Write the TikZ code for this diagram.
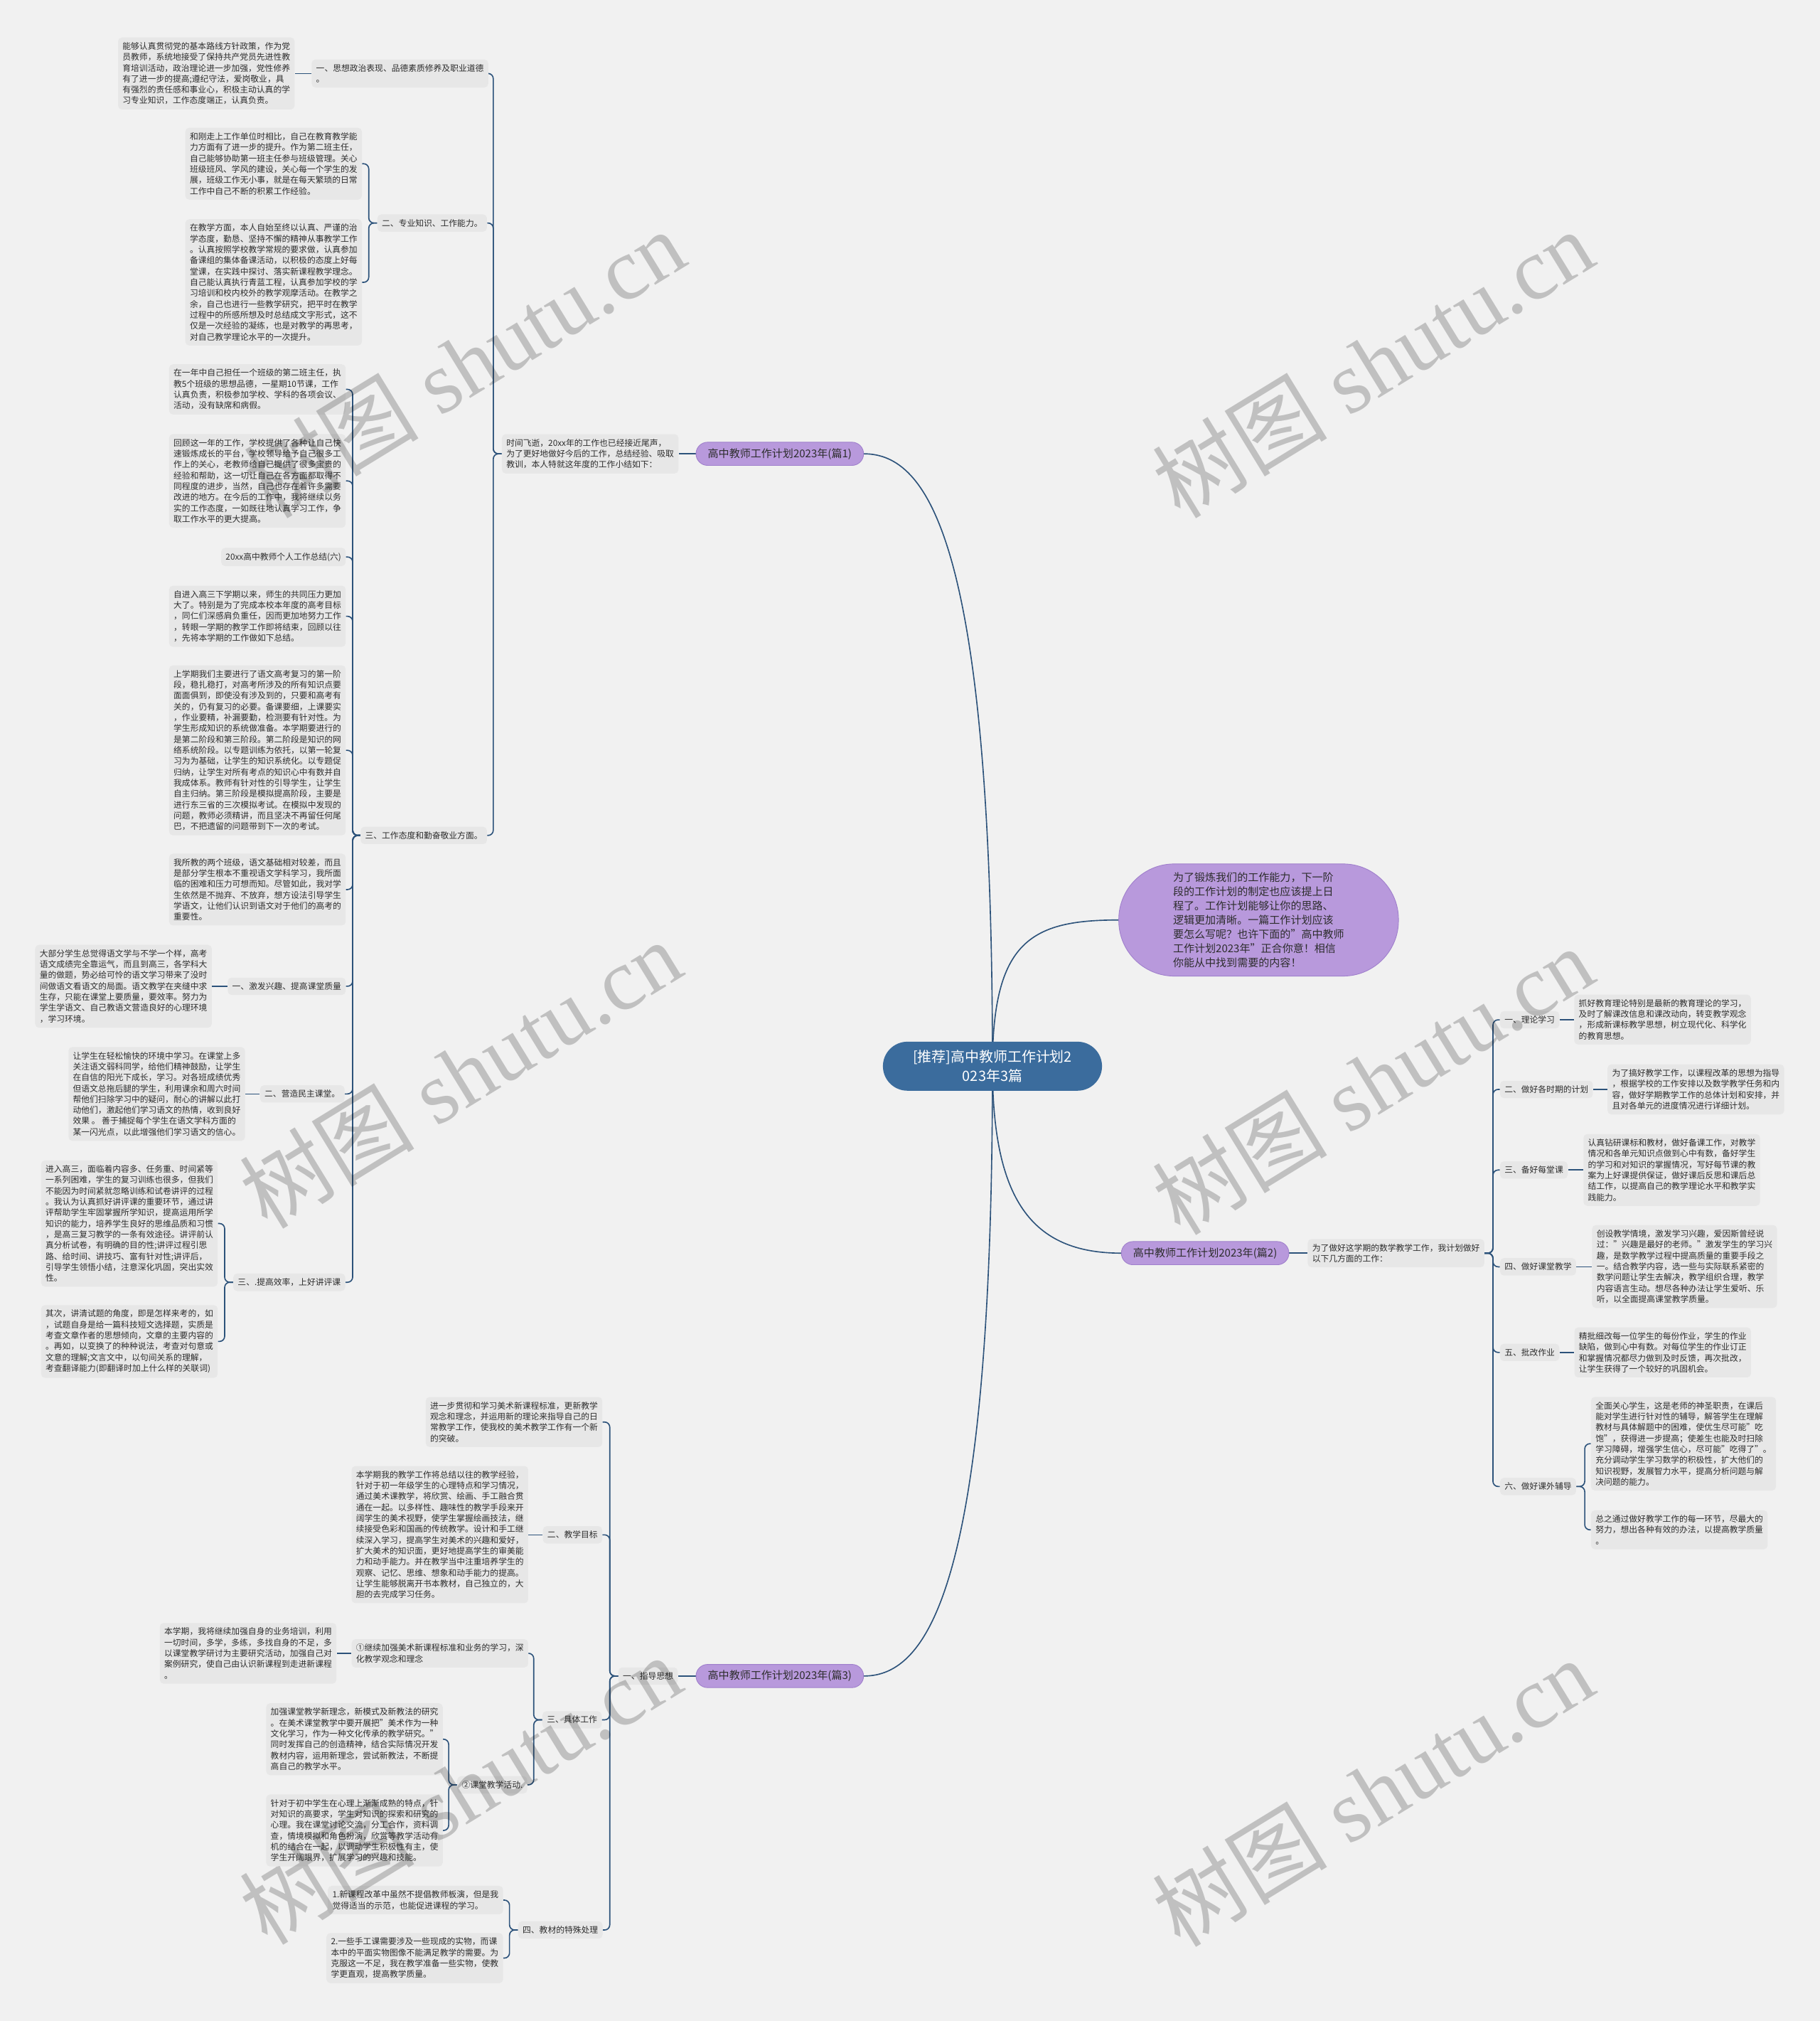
\documentclass[tikz,border=0pt]{standalone}
\usepackage{fontspec}
\setmainfont{Noto Sans CJK SC}
\newfontfamily\wmserif{Liberation Serif}
\definecolor{bgc}{RGB}{241,241,241}
\definecolor{boxc}{RGB}{231,231,231}
\definecolor{linec}{RGB}{44,82,122}
\definecolor{purp}{RGB}{184,153,220}
\definecolor{purpd}{RGB}{160,128,204}
\definecolor{cblue}{RGB}{59,108,157}
\definecolor{txt}{RGB}{45,45,45}
\pgfdeclarelayer{bglayer}
\pgfdeclarelayer{linelayer}
\pgfdeclarelayer{wmlayer}
\pgfsetlayers{bglayer,linelayer,main,wmlayer}
\begin{document}
\begin{tikzpicture}[x=1pt,y=-1pt,
  tbox/.style={fill=boxc, rounded corners=3pt, inner xsep=3.5pt, inner ysep=3.7pt, align=left, text=txt, font=\fontsize{6.5}{8.45}\selectfont},
  pillnode/.style={fill=purp, draw=purpd, line width=0.5pt, rounded corners=9pt, minimum width=130pt, minimum height=18pt, inner sep=0pt, text=txt, font=\fontsize{8.3}{10}\selectfont},
  conn/.style={draw=linec, line width=0.9pt, rounded corners=4pt},
  wm/.style={rotate=31.5, text=black, opacity=0.2, font=\fontsize{68}{70}\selectfont}
]
\useasboundingbox (0,0) rectangle (1412,1567.6);
\begin{pgfonlayer}{bglayer}
\fill[bgc] (0,0) rectangle (1412,1567.6);
\end{pgfonlayer}

% ---------- centre ----------
\node[fill=cblue, rounded corners=19pt, minimum width=170pt, minimum height=38pt, align=center, text=white, font=\fontsize{11}{14.5}\selectfont, inner sep=0pt] (C0) at (770,827) {[推荐]高中教师工作计划2\\023年3篇};
\node[fill=purp, draw=purpd, line width=0.5pt, rounded corners=43pt, minimum width=217pt, minimum height=87pt, align=left, text=txt, font=\fontsize{8.3}{11}\selectfont, inner sep=0pt] (BB) at (976.5,713.6) {为了锻炼我们的工作能力，下一阶\\段的工作计划的制定也应该提上日\\程了。工作计划能够让你的思路、\\逻辑更加清晰。一篇工作计划应该\\要怎么写呢？也许下面的"高中教师\\工作计划2023年"正合你意！相信\\你能从中找到需要的内容！};

% ---------- branch 1 ----------
\node[pillnode] (P1) at (605,352) {高中教师工作计划2023年(篇1)};
\node[tbox, anchor=east] (T1) at (526.6,352) {时间飞逝，20xx年的工作也已经接近尾声，\\为了更好地做好今后的工作，总结经验、吸取\\教训，本人特就这年度的工作小结如下：};
\node[tbox, anchor=east] (L1) at (379,57) {一、思想政治表现、品德素质修养及职业道德\\。};
\node[tbox, anchor=east] (A1) at (228.8,57) {能够认真贯彻党的基本路线方针政策，作为党\\员教师，系统地接受了保持共产党员先进性教\\育培训活动，政治理论进一步加强，党性修养\\有了进一步的提高;遵纪守法，爱岗敬业，具\\有强烈的责任感和事业心，积极主动认真的学\\习专业知识，工作态度端正，认真负责。};
\node[tbox, anchor=east] (L2) at (378,173) {二、专业知识、工作能力。};
\node[tbox, anchor=east] (A2) at (281,127) {和刚走上工作单位时相比，自己在教育教学能\\力方面有了进一步的提升。作为第二班主任，\\自己能够协助第一班主任参与班级管理。关心\\班级班风、学风的建设，关心每一个学生的发\\展，班级工作无小事，就是在每天繁琐的日常\\工作中自己不断的积累工作经验。};
\node[tbox, anchor=east] (A3) at (281,219) {在教学方面，本人自始至终以认真、严谨的治\\学态度，勤恳、坚持不懈的精神从事教学工作\\。认真按照学校教学常规的要求做，认真参加\\备课组的集体备课活动，以积极的态度上好每\\堂课，在实践中探讨、落实新课程教学理念。\\自己能认真执行青蓝工程，认真参加学校的学\\习培训和校内校外的教学观摩活动。在教学之\\余，自己也进行一些教学研究，把平时在教学\\过程中的所感所想及时总结成文字形式，这不\\仅是一次经验的凝练，也是对教学的再思考，\\对自己教学理论水平的一次提升。};
\node[tbox, anchor=east] (L3) at (378,648) {三、工作态度和勤奋敬业方面。};
\node[tbox, anchor=east] (A4) at (268.4,302) {在一年中自己担任一个班级的第二班主任，执\\教5个班级的思想品德，一星期10节课，工作\\认真负责，积极参加学校、学科的各项会议、\\活动，没有缺席和病假。};
\node[tbox, anchor=east] (A5) at (268.4,373) {回顾这一年的工作，学校提供了各种让自己快\\速锻炼成长的平台，学校领导给予自己很多工\\作上的关心，老教师给自己提供了很多宝贵的\\经验和帮助，这一切让自己在各方面都取得不\\同程度的进步，当然，自己也存在着许多需要\\改进的地方。在今后的工作中，我将继续以务\\实的工作态度，一如既往地认真学习工作，争\\取工作水平的更大提高。};
\node[tbox, anchor=east] (A6) at (268.4,432) {20xx高中教师个人工作总结(六)};
\node[tbox, anchor=east] (A7) at (268.4,478) {自进入高三下学期以来，师生的共同压力更加\\大了。特别是为了完成本校本年度的高考目标\\，同仁们深感肩负重任，因而更加地努力工作\\，转眼一学期的教学工作即将结束，回顾以往\\，先将本学期的工作做如下总结。};
\node[tbox, anchor=east] (A8) at (268.4,582) {上学期我们主要进行了语文高考复习的第一阶\\段，稳扎稳打，对高考所涉及的所有知识点要\\面面俱到，即使没有涉及到的，只要和高考有\\关的，仍有复习的必要。备课要细，上课要实\\，作业要精，补漏要勤，检测要有针对性。为\\学生形成知识的系统做准备。本学期要进行的\\是第二阶段和第三阶段。第二阶段是知识的网\\络系统阶段。以专题训练为依托，以第一轮复\\习为为基础，让学生的知识系统化。以专题促\\归纳，让学生对所有考点的知识心中有数并自\\我成体系。教师有针对性的引导学生，让学生\\自主归纳。第三阶段是模拟提高阶段，主要是\\进行东三省的三次模拟考试。在模拟中发现的\\问题，教师必须精讲，而且坚决不再留任何尾\\巴，不把遗留的问题带到下一次的考试。};
\node[tbox, anchor=east] (A9) at (268.4,690) {我所教的两个班级，语文基础相对较差，而且\\是部分学生根本不重视语文学科学习，我所面\\临的困难和压力可想而知。尽管如此，我对学\\生依然是不抛弃、不放弃，想方设法引导学生\\学语文，让他们认识到语文对于他们的高考的\\重要性。};
\node[tbox, anchor=east] (L4) at (268.4,765) {一、激发兴趣、提高课堂质量};
\node[tbox, anchor=east] (A10) at (164.5,765) {大部分学生总觉得语文学与不学一个样，高考\\语文成绩完全靠运气，而且到高三，各学科大\\量的做题，势必给可怜的语文学习带来了没时\\间做语文看语文的局面。语文教学在夹缝中求\\生存，只能在课堂上要质量，要效率。努力为\\学生学语文、自己教语文营造良好的心理环境\\，学习环境。};
\node[tbox, anchor=east] (L5) at (267.5,848.5) {二、营造民主课堂。};
\node[tbox, anchor=east] (A11) at (190.3,848.5) {让学生在轻松愉快的环境中学习。在课堂上多\\关注语文弱科同学，给他们精神鼓励，让学生\\在自信的阳光下成长，学习。对各班成绩优秀\\但语文总拖后腿的学生，利用课余和周六时间\\帮他们扫除学习中的疑问，耐心的讲解以此打\\动他们，激起他们学习语文的热情，收到良好\\效果 。 善于捕捉每个学生在语文学科方面的\\某一闪光点，以此增强他们学习语文的信心。};
\node[tbox, anchor=east] (L6) at (268,994.6) {三、.提高效率，上好讲评课};
\node[tbox, anchor=east] (A12) at (169.1,949) {进入高三，面临着内容多、任务重、时间紧等\\一系列困难，学生的复习训练也很多，但我们\\不能因为时间紧就忽略训练和试卷讲评的过程\\。我认为认真抓好讲评课的重要环节，通过讲\\评帮助学生牢固掌握所学知识，提高运用所学\\知识的能力，培养学生良好的思维品质和习惯\\，是高三复习教学的一条有效途径。讲评前认\\真分析试卷，有明确的目的性;讲评过程引思\\路、给时间、讲技巧、富有针对性;讲评后，\\引导学生领悟小结，注意深化巩固，突出实效\\性。};
\node[tbox, anchor=east] (A13) at (169.1,1040.5) {其次，讲清试题的角度，即是怎样来考的，如\\，试题自身是给一篇科技短文选择题，实质是\\考查文章作者的思想倾向，文章的主要内容的\\。再如，以变换了的种种说法，考查对句意或\\文意的理解;文言文中，以句间关系的理解，\\考查翻译能力(即翻译时加上什么样的关联词)};

% ---------- branch 3 ----------
\node[pillnode] (P3) at (605,1300) {高中教师工作计划2023年(篇3)};
\node[tbox, anchor=east] (M1) at (526,1300) {一、指导思想};
\node[tbox, anchor=east] (C1) at (467.5,1103) {进一步贯彻和学习美术新课程标准，更新教学\\观念和理念，并运用新的理论来指导自己的日\\常教学工作，使我校的美术教学工作有一个新\\的突破。};
\node[tbox, anchor=east] (M2) at (467.4,1190.5) {二、教学目标};
\node[tbox, anchor=east] (C2) at (410,1190.3) {本学期我的教学工作将总结以往的教学经验，\\针对于初一年级学生的心理特点和学习情况，\\通过美术课教学，将欣赏、绘画、手工融合贯\\通在一起。以多样性、趣味性的教学手段来开\\阔学生的美术视野，使学生掌握绘画技法，继\\续接受色彩和国画的传统教学。设计和手工继\\续深入学习，提高学生对美术的兴趣和爱好，\\扩大美术的知识面，更好地提高学生的审美能\\力和动手能力。并在教学当中注重培养学生的\\观察、记忆、思维、想象和动手能力的提高。\\让学生能够脱离开书本教材，自己独立的，大\\胆的去完成学习任务。};
\node[tbox, anchor=east] (M3) at (467,1334) {三、具体工作};
\node[tbox, anchor=east] (M5) at (410,1282.4) {①继续加强美术新课程标准和业务的学习，深\\化教学观念和理念};
\node[tbox, anchor=east] (C3) at (261.2,1282.4) {本学期，我将继续加强自身的业务培训，利用\\一切时间，多学，多练，多找自身的不足，多\\以课堂教学研讨为主要研究活动，加强自己对\\案例研究，使自己由认识新课程到走进新课程\\。};
\node[tbox, anchor=east] (M6) at (409.3,1384.4) {②课堂教学活动.};
\node[tbox, anchor=east] (C4) at (343.7,1349) {加强课堂教学新理念，新模式及新教法的研究\\。在美术课堂教学中要开展把"美术作为一种\\文化学习，作为一种文化传承的教学研究。"\\同时发挥自己的创造精神，结合实际情况开发\\教材内容，运用新理念，尝试新教法，不断提\\高自己的教学水平。};
\node[tbox, anchor=east] (C5) at (343.7,1419.8) {针对于初中学生在心理上渐渐成熟的特点，针\\对知识的高要求，学生对知识的探索和研究的\\心理。我在课堂讨论交流，分工合作，资料调\\查，情境模拟和角色扮演，欣赏等教学活动有\\机的结合在一起，以调动学生积极性有主，使\\学生开阔眼界，扩展学习的兴趣和技能。};
\node[tbox, anchor=east] (M4) at (467.7,1497) {四、教材的特殊处理};
\node[tbox, anchor=east] (C6) at (390.5,1473.8) {1.新课程改革中虽然不提倡教师板演，但是我\\觉得适当的示范，也能促进课程的学习。};
\node[tbox, anchor=east] (C7) at (390.5,1518.8) {2.一些手工课需要涉及一些现成的实物，而课\\本中的平面实物图像不能满足教学的需要。为\\克服这一不足，我在教学准备一些实物，使教\\学更直观，提高教学质量。};

% ---------- branch 2 ----------
\node[pillnode] (P2) at (935,972) {高中教师工作计划2023年(篇2)};
\node[tbox, anchor=west] (R0) at (1014.4,972) {为了做好这学期的数学教学工作，我计划做好\\以下几方面的工作：};
\node[tbox, anchor=west] (N1) at (1163.6,791) {一、理论学习};
\node[tbox, anchor=west] (B2) at (1221.2,790.8) {抓好教育理论特别是最新的教育理论的学习，\\及时了解课改信息和课改动向，转变教学观念\\，形成新课标教学思想，树立现代化、科学化\\的教育思想。};
\node[tbox, anchor=west] (N2) at (1163.6,845) {二、做好各时期的计划};
\node[tbox, anchor=west] (B3) at (1247,845) {为了搞好教学工作，以课程改革的思想为指导\\，根据学校的工作安排以及数学教学任务和内\\容，做好学期教学工作的总体计划和安排，并\\且对各单元的进度情况进行详细计划。};
\node[tbox, anchor=west] (N3) at (1163.6,907.5) {三、备好每堂课};
\node[tbox, anchor=west] (B4) at (1228.3,907.5) {认真钻研课标和教材，做好备课工作，对教学\\情况和各单元知识点做到心中有数，备好学生\\的学习和对知识的掌握情况，写好每节课的教\\案为上好课提供保证，做好课后反思和课后总\\结工作，以提高自己的教学理论水平和教学实\\践能力。};
\node[tbox, anchor=west] (N4) at (1163.6,982.6) {四、做好课堂教学};
\node[tbox, anchor=west] (B5) at (1235,982.4) {创设教学情境，激发学习兴趣，爱因斯曾经说\\过："兴趣是最好的老师。"激发学生的学习兴\\趣，是数学教学过程中提高质量的重要手段之\\一。结合教学内容，选一些与实际联系紧密的\\数学问题让学生去解决，教学组织合理，教学\\内容语言生动。想尽各种办法让学生爱听、乐\\听，以全面提高课堂教学质量。};
\node[tbox, anchor=west] (N5) at (1163.6,1049) {五、批改作业};
\node[tbox, anchor=west] (B6) at (1221.3,1049) {精批细改每一位学生的每份作业，学生的作业\\缺陷，做到心中有数。对每位学生的作业订正\\和掌握情况都尽力做到及时反馈，再次批改，\\让学生获得了一个较好的巩固机会。};
\node[tbox, anchor=west] (N6) at (1163.6,1153) {六、做好课外辅导};
\node[tbox, anchor=west] (B7) at (1234.2,1119.8) {全面关心学生，这是老师的神圣职责，在课后\\能对学生进行针对性的辅导，解答学生在理解\\教材与具体解题中的困难，使优生尽可能"吃\\饱"，获得进一步提高；使差生也能及时扫除\\学习障碍，增强学生信心，尽可能"吃得了"。\\充分调动学生学习数学的积极性，扩大他们的\\知识视野，发展智力水平，提高分析问题与解\\决问题的能力。};
\node[tbox, anchor=west] (B8) at (1234.2,1186.6) {总之通过做好教学工作的每一环节，尽最大的\\努力，想出各种有效的办法，以提高教学质量\\。};

% ---------- connectors ----------
\begin{pgfonlayer}{linelayer}
\draw[conn] (C0.center) .. controls (770,420) and (720,352) .. (P1.east);
\draw[conn] (C0.center) .. controls (770,730) and (800,713.6) .. (BB.west);
\draw[conn] (C0.center) .. controls (770,930) and (800,972) .. (P2.west);
\draw[conn] (C0.center) .. controls (770,1230) and (720,1300) .. (P3.east);
% branch 1
\draw[conn] (P1.west) -- (T1.east);
\foreach \c in {L1,L2,L3} \draw[conn] (T1.west) -- ++(-6.5,0) |- (\c.east);
\draw[conn] (L1.west) -- (A1.east |- L1.west);
\foreach \c in {A2,A3} \draw[conn] (L2.west) -- ++(-6.5,0) |- (\c.east);
\foreach \c in {A4,A5,A6,A7,A8,A9,L4,L5,L6} \draw[conn] (L3.west) -- ++(-6,0) |- (\c.east);
\draw[conn] (L4.west) -- (A10.east |- L4.west);
\draw[conn] (L5.west) -- (A11.east |- L5.west);
\foreach \c in {A12,A13} \draw[conn] (L6.west) -- ++(-6.5,0) |- (\c.east);
% branch 3
\draw[conn] (P3.west) -- (M1.east);
\foreach \c in {C1,M2,M3,M4} \draw[conn] (M1.west) -- ++(-6.5,0) |- (\c.east);
\draw[conn] (M2.west) -- (C2.east |- M2.west);
\foreach \c in {M5,M6} \draw[conn] (M3.west) -- ++(-6.5,0) |- (\c.east);
\draw[conn] (M5.west) -- (C3.east |- M5.west);
\foreach \c in {C4,C5} \draw[conn] (M6.west) -- ++(-6.5,0) |- (\c.east);
\foreach \c in {C6,C7} \draw[conn] (M4.west) -- ++(-6.5,0) |- (\c.east);
% branch 2
\draw[conn] (P2.east) -- (R0.west);
\foreach \c in {N1,N2,N3,N4,N5,N6} \draw[conn] (R0.east) -- ++(6.5,0) |- (\c.west);
\draw[conn] (N1.east) -- (B2.west |- N1.east);
\draw[conn] (N2.east) -- (B3.west |- N2.east);
\draw[conn] (N3.east) -- (B4.west |- N3.east);
\draw[conn] (N4.east) -- (B5.west |- N4.east);
\draw[conn] (N5.east) -- (B6.west |- N5.east);
\foreach \c in {B7,B8} \draw[conn] (N6.east) -- ++(6.5,0) |- (\c.west);
\end{pgfonlayer}

% ---------- watermarks ----------
\begin{pgfonlayer}{wmlayer}
\foreach \p [count=\i] in {(360,282),(1065,282),(357,833),(1065,838),(357,1388),(1065,1390)}
  \node[wm] (W\i) at \p {树图\hspace{0.25em}{\wmserif shutu.cn}};
\end{pgfonlayer}
\end{tikzpicture}
\end{document}
